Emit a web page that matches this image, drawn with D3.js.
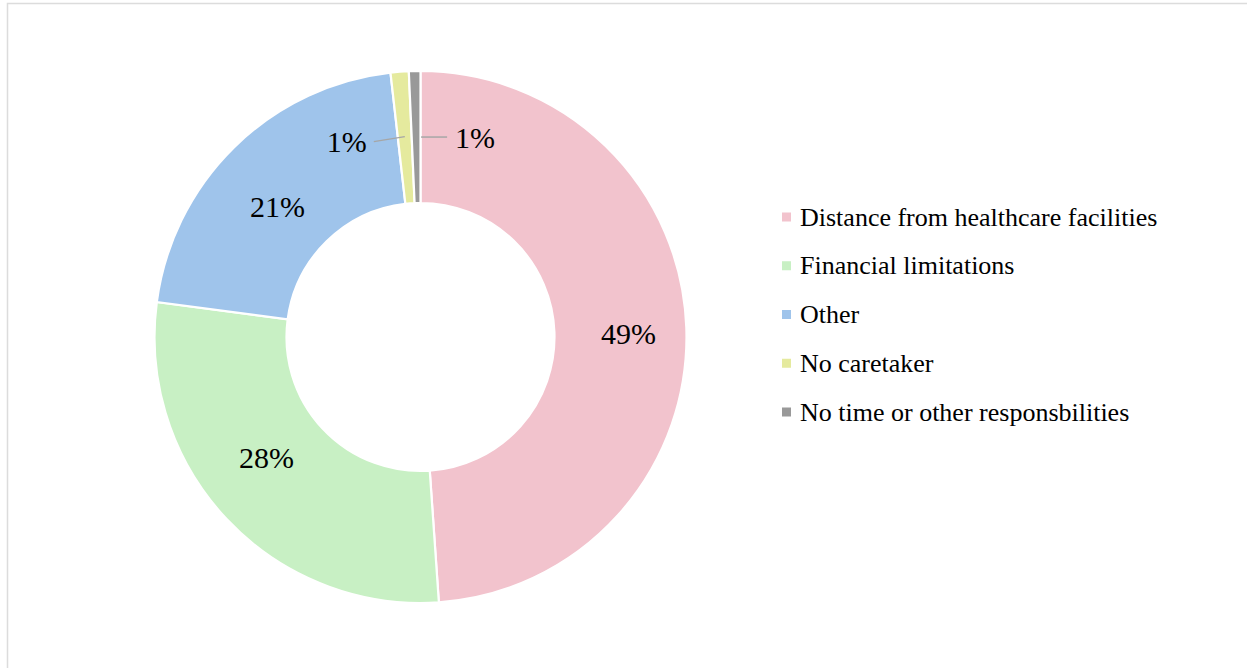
<!DOCTYPE html>
<html>
<head>
<meta charset="utf-8">
<script src="https://cdn.jsdelivr.net/npm/d3@7"></script>
<style>
  html, body { margin: 0; padding: 0; background: #fff; }
  svg { display: block; }
</style>
</head>
<body>
<svg id="chart" width="1247" height="668"></svg>
<script>
const categories = [
  "Distance from healthcare facilities",
  "Financial limitations",
  "Other",
  "No caretaker",
  "No time or other responsbilities"
];
const values = [48.9, 28.2, 21.1, 1.1, 0.7];
const labels = ["49%", "28%", "21%", "1%", "1%"];
const colors = ["#F2C3CD", "#C8F0C4", "#9FC4EB", "#E5EA9E", "#999999"];

const W = 1247, H = 668;
const svg = d3.select("#chart");

// frame
svg.append("rect")
  .attr("x", 7.5).attr("y", 3.5)
  .attr("width", W + 10).attr("height", H + 10)
  .attr("fill", "none").attr("stroke", "#dcdcdc").attr("stroke-width", 1.5);

const cx = 420.5, cy = 337, rOuter = 266, rInner = 134;
const g = svg.append("g").attr("transform", `translate(${cx},${cy})`);

const pie = d3.pie().sort(null).value(d => d.v);
const data = categories.map((c, i) => ({ c, v: values[i], lab: labels[i], col: colors[i] }));
const arcs = pie(data);
const arc = d3.arc().innerRadius(rInner).outerRadius(rOuter);
const mid = d3.arc().innerRadius((rInner + rOuter) / 2).outerRadius((rInner + rOuter) / 2);

g.selectAll("path.slice").data(arcs).enter().append("path")
  .attr("class", "slice")
  .attr("d", arc)
  .attr("fill", d => d.data.col)
  .attr("stroke", "#fff").attr("stroke-width", 2.2);

const font = "'Liberation Serif', 'Times New Roman', serif";
const labR = 200, labShift = 1 * Math.PI / 180, sx = 1.04, sy = 0.9;

arcs.forEach((d, i) => {
  const [x, y] = mid.centroid(d);
  if (d.data.v >= 5) {
    const a = (d.startAngle + d.endAngle) / 2 + labShift;
    g.append("text")
      .attr("x", sx * labR * Math.sin(a)).attr("y", -sy * labR * Math.cos(a))
      .attr("text-anchor", "middle").attr("dominant-baseline", "central")
      .attr("font-family", font).attr("font-size", 30)
      .attr("fill", "#000")
      .text(d.data.lab);
  } else {
    const toRight = i === arcs.length - 1;
    const len = 31;
    const ex = toRight ? x + len : x - len;
    const ey = toRight ? y : y + 4;
    const y1 = toRight ? y : y - 1;
    g.append("line")
      .attr("x1", toRight ? x + 5 : x).attr("y1", y1)
      .attr("x2", ex).attr("y2", ey)
      .attr("stroke", "#a6a6a6").attr("stroke-width", 1.5);
    g.append("text")
      .attr("x", toRight ? ex + 8 : ex - 7).attr("y", ey)
      .attr("text-anchor", toRight ? "start" : "end")
      .attr("dominant-baseline", "central")
      .attr("font-family", font).attr("font-size", 30)
      .attr("fill", "#000")
      .text(d.data.lab);
  }
});

// legend
const legY = d3.scalePoint().domain(categories).range([217, 412]);
const leg = svg.append("g");
data.forEach(d => {
  const y = legY(d.c);
  leg.append("rect")
    .attr("x", 782).attr("y", y - 4.5)
    .attr("width", 9).attr("height", 9)
    .attr("fill", d.col);
  leg.append("text")
    .attr("x", 800).attr("y", y)
    .attr("dominant-baseline", "central")
    .attr("font-family", font).attr("font-size", 26)
    .attr("fill", "#000")
    .text(d.c);
});
</script>
</body>
</html>
